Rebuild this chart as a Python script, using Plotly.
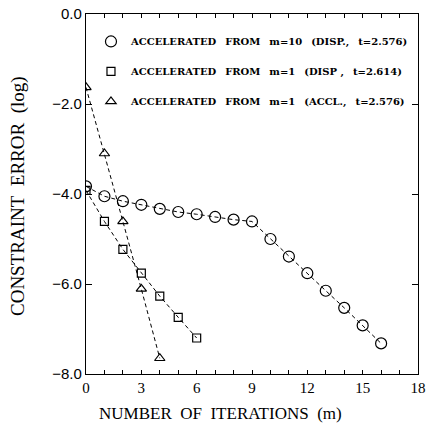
import plotly.graph_objects as go

# Data
m_circ = list(range(0, 17))
err_circ = [-3.83, -4.05, -4.16, -4.24, -4.33, -4.40, -4.45, -4.51, -4.57, -4.61,
            -5.00, -5.39, -5.76, -6.15, -6.53, -6.92, -7.32]
m_sq = list(range(0, 7))
err_sq = [-3.92, -4.61, -5.23, -5.76, -6.27, -6.74, -7.20]
m_tri = list(range(0, 5))
err_tri = [-1.63, -3.10, -4.61, -6.11, -7.65]

S = "\u00a0\u00a0"
G = "\u00a0\u00a0\u2009"
labels = [
    f"ACCELERATED{G}FROM{G}m=10{G}(DISP.,{G}t=2.576)",
    f"ACCELERATED{G}FROM{G}m=1{G}(DISP ,{G}t=2.614)",
    f"ACCELERATED{G}FROM{G}m=1{G}(ACCL.,{G}t=2.576)",
]
x_ticks = [0, 3, 6, 9, 12, 15, 18]
y_ticks = [-8, -6, -4, -2, 0]

series = [
    (m_circ, err_circ, "circle-open", 11, labels[0]),
    (m_sq, err_sq, "square-open", 8, labels[1]),
    (m_tri, err_tri, "triangle-up-open", 9, labels[2]),
]

fig = go.Figure()
for i, (xs, ys, sym, sz, lab) in enumerate(series):
    fig.add_trace(go.Scatter(
        x=xs, y=ys, mode="lines+markers", showlegend=False,
        line=dict(color="black", width=1, dash="4px,3px"),
        marker=dict(symbol=sym, size=sz, color="black", line=dict(width=1.2, color="black")),
    ))
for i, (xs, ys, sym, sz, lab) in enumerate(series):
    fig.add_trace(go.Scatter(
        x=[None], y=[None], mode="markers", name=lab, legendgroup=str(i),
        marker=dict(symbol=sym, size=sz, color="black", line=dict(width=1.2, color="black")),
    ))

axis_common = dict(showline=True, linecolor="black", linewidth=1.3, mirror="ticks",
                   ticks="inside", tickcolor="black", showgrid=False, zeroline=False)

fig.update_xaxes(range=[0, 18], tickvals=x_ticks, ticklen=4, tickwidth=1,
                 minor=dict(dtick=1, ticks="inside", ticklen=4, tickcolor="black", showgrid=False),
                 tickfont=dict(family="Liberation Serif", size=15, color="black"),
                 **axis_common)
fig.update_yaxes(range=[-8, 0], tickvals=y_ticks, tickformat=".1f", ticklen=6, tickwidth=1,
                 tickfont=dict(family="Liberation Sans", size=15, color="black"),
                 **axis_common)

fig.add_annotation(text="NUMBER  OF  ITERATIONS  (m)".replace("  ", S), xref="paper", yref="paper",
                   x=(220 - 86) / 332, y=(374 - 413) / 360, xanchor="center", yanchor="middle",
                   showarrow=False,
                   font=dict(family="Liberation Serif", size=17, color="black"))
fig.add_annotation(text="CONSTRAINT  ERROR  (log)".replace("  ", S), xref="paper", yref="paper",
                   x=(18 - 86) / 332, y=(374 - 196) / 360, xanchor="center", yanchor="middle",
                   showarrow=False, textangle=-90,
                   font=dict(family="Liberation Serif", size=19, color="black"))

fig.update_layout(
    width=432, height=427,
    margin=dict(l=86, r=14, t=14, b=53, autoexpand=False),
    paper_bgcolor="white", plot_bgcolor="white",
    legend=dict(x=0.015, y=0.964, xanchor="left", yanchor="top", bgcolor="rgba(0,0,0,0)",
                borderwidth=0, tracegroupgap=11,
                font=dict(family="DejaVu Serif", size=10, color="black", weight="bold")),
)

fig.write_html("out.html")
